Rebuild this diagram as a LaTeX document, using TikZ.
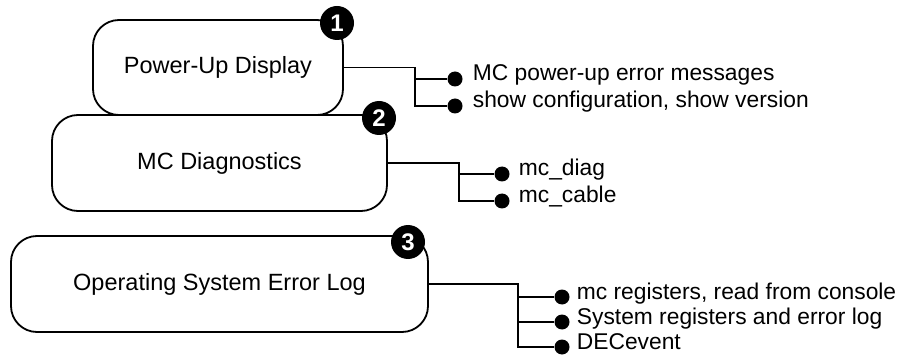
\documentclass[tikz,border=0pt]{standalone}
\usepackage{fontspec}
\setmainfont{Liberation Sans}
\usetikzlibrary{positioning}

\begin{document}
\begin{tikzpicture}[
    x=1pt, y=-1pt,
    stage/.style={
        rectangle,
        rounded corners=26pt,
        draw=black,
        line width=1.8pt,
        fill=white,
        minimum height=96pt,
        font=\fontsize{23.5}{27}\selectfont
    },
    badge/.style={circle, fill=black, text=white, minimum size=34pt, inner sep=0pt,
        font=\fontsize{24}{24}\selectfont\bfseries},
    dot/.style={circle, fill=black, minimum size=15pt, inner sep=0pt},
    item/.style={anchor=base west, inner sep=0pt, font=\fontsize{22.8}{26}\selectfont},
    wire/.style={line width=1.8pt}
]

\useasboundingbox (0,0) rectangle (902,358);

% the three sources
\node[stage, minimum width=335pt] (diag) at (219.5,163) {MC Diagnostics};
\node[stage, minimum width=250pt, minimum height=95pt] (pu) at (218,67.5) {Power-Up Display};
\node[stage, minimum width=417pt] (errlog) at (219.5,284) {Operating System Error Log};

\node[badge] (n1) at (337,23) {1};
\node[badge] (n2) at (379,118) {2};
\node[badge] (n3) at (408,242) {3};

% end points
\node[dot] (d1a) at (455,79) {};
\node[dot] (d1b) at (455,106) {};
\node[dot] (d2a) at (502,174) {};
\node[dot] (d2b) at (502,201) {};
\node[dot] (d3a) at (562,297) {};
\node[dot] (d3b) at (562,322) {};
\node[dot] (d3c) at (562,347) {};

\node[item] (t1a) at ([xshift=10pt, yshift=-2pt]d1a.east) {MC power-up error messages};
\node[item] (t1b) at ([xshift=10pt, yshift=-2pt]d1b.east) {show configuration, show version};
\node[item] (t2a) at ([xshift=9pt, yshift=-2pt]d2a.east) {mc\_diag};
\node[item] (t2b) at ([xshift=9pt, yshift=-2pt]d2b.east) {mc\_cable};
\node[item] (t3a) at ([xshift=7pt, yshift=-2pt]d3a.east) {mc registers, read from console};
\node[item] (t3b) at ([xshift=7pt, yshift=-2pt]d3b.east) {System registers and error log};
\node[item] (t3c) at ([xshift=7pt, yshift=-2pt]d3c.east) {DECevent};

% connectors
\coordinate (j1) at (415,0);
\coordinate (j2) at (459,0);
\coordinate (j3) at (518,0);

\draw[wire] (pu.east) -| (j1 |- d1b) -- (d1b);
\draw[wire] (j1 |- d1a) -- (d1a);

\draw[wire] (diag.east) -| (j2 |- d2b) -- (d2b);
\draw[wire] (j2 |- d2a) -- (d2a);

\draw[wire] (errlog.east) -| (j3 |- d3c) -- (d3c);
\draw[wire] (j3 |- d3a) -- (d3a);
\draw[wire] (j3 |- d3b) -- (d3b);

\end{tikzpicture}
\end{document}
